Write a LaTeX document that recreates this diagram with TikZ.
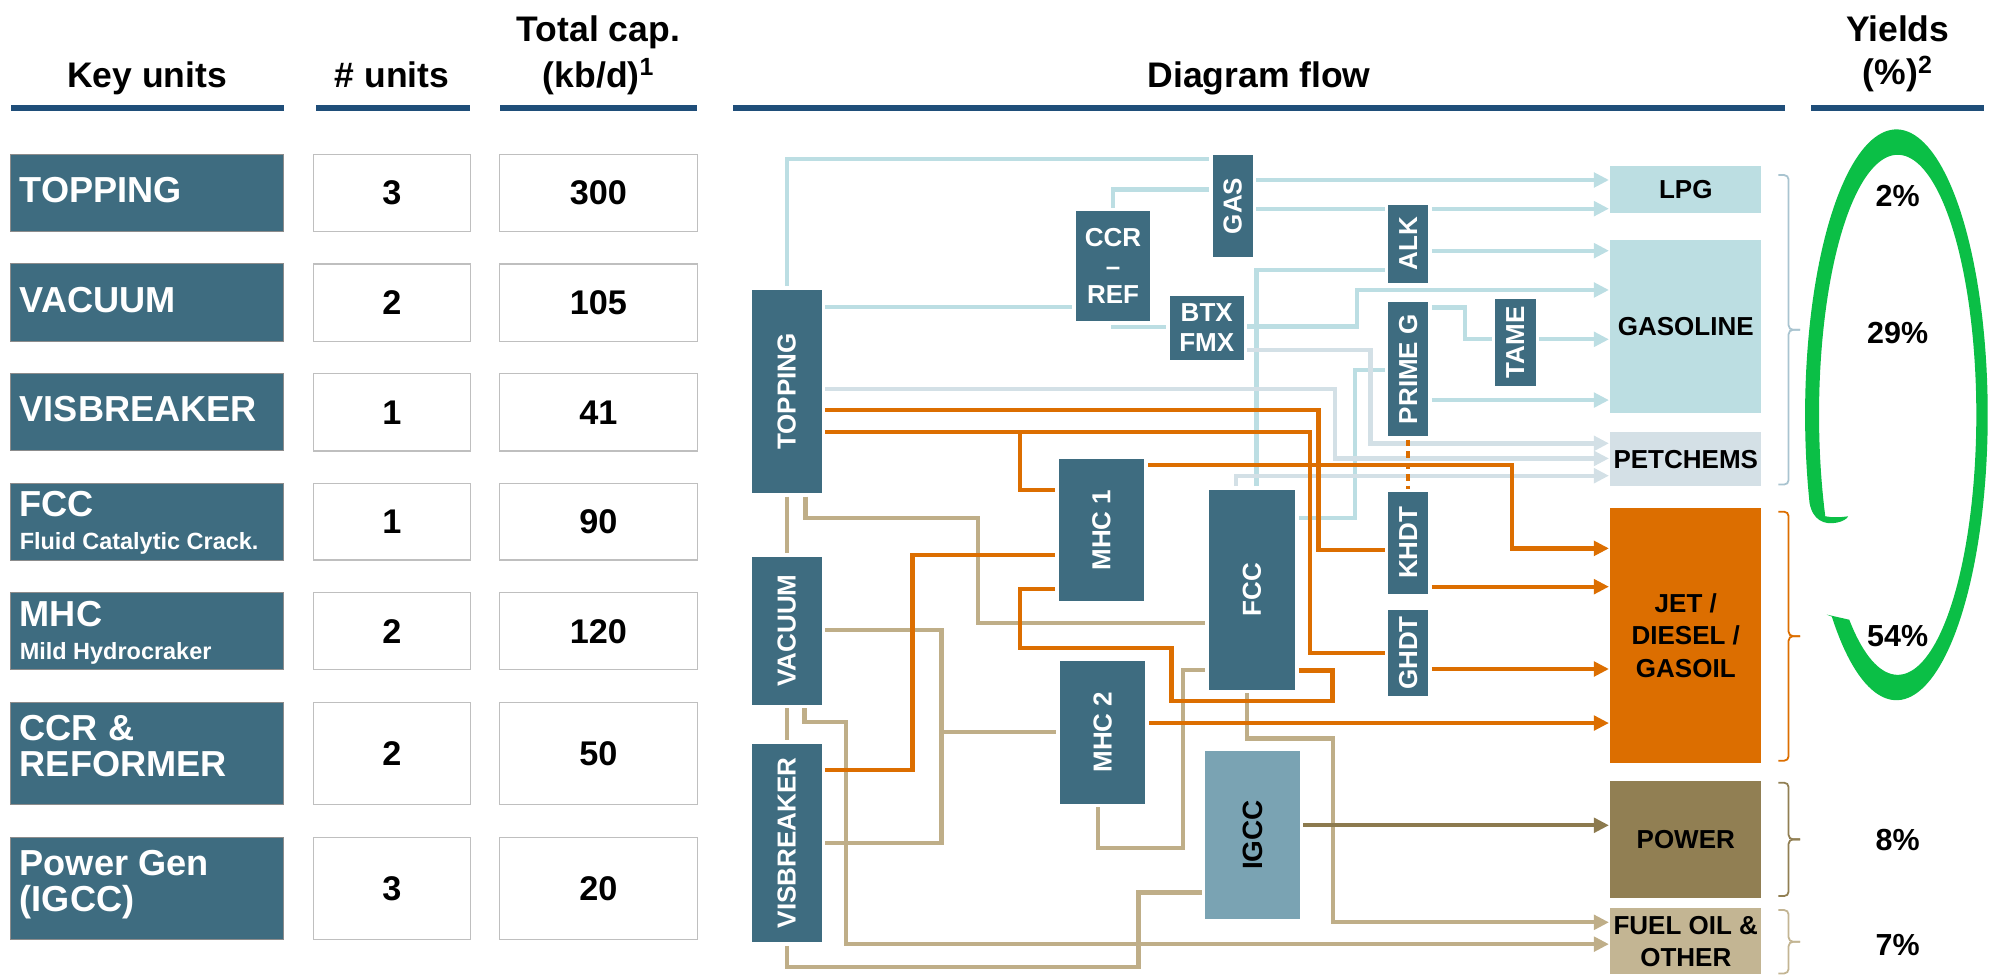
\documentclass[tikz,border=0pt]{standalone}
\usepackage{fontspec}
\setmainfont{Liberation Sans}
\usepackage{graphicx}
\usetikzlibrary{arrows.meta,calc}
\pgfdeclarelayer{lines}
\pgfsetlayers{lines,main}
\definecolor{blkc}{HTML}{3E6C80}
\definecolor{igcc}{HTML}{7AA3B3}
\definecolor{lbc}{HTML}{BCDEE3}
\definecolor{pcc}{HTML}{D3E0E6}
\definecolor{ogc}{HTML}{DC6E00}
\definecolor{tnc}{HTML}{BFAE88}
\definecolor{bwc}{HTML}{8C7A4E}
\definecolor{lpgc}{HTML}{BCDEE2}
\definecolor{petc}{HTML}{D4E0E6}
\definecolor{powc}{HTML}{917F53}
\definecolor{fuelc}{HTML}{C3B593}
\definecolor{ulc}{HTML}{1F4E79}
\definecolor{grn}{HTML}{0BBF46}
\definecolor{brcb}{HTML}{A9C4D0}
\definecolor{keybd}{HTML}{8C8C8C}
\definecolor{numbd}{HTML}{BFBFBF}
\newcommand{\mkbox}[7]{%
  \pgfmathsetmacro{\mkcx}{(#3+#5)/2}%
  \pgfmathsetmacro{\mkcy}{(#4+#6)/2}%
  \pgfmathsetmacro{\mkw}{#5-#3}%
  \pgfmathsetmacro{\mkh}{#6-#4}%
  \node[#2, minimum width=\mkw pt, minimum height=\mkh pt] (#1) at (\mkcx,\mkcy) {#7};}
% brace: colour, top, tip, bottom
\newcommand{\mkbrace}[4]{%
  \draw[brc, draw=#1] (1402,#2) -| (1410,#3) -- (1419,#3);
  \draw[brc, draw=#1] (1419,#3) -- (1410,#3) |- (1402,#4);}
\begin{document}
\begin{tikzpicture}[x=1pt,y=-1pt,
  blk/.style={fill=blkc, draw=white, line width=0.6pt, inner sep=0pt, outer sep=0pt, text=white, font=\fontsize{20.5}{22.5}\selectfont\bfseries, align=center},
  outb/.style={inner sep=0pt, outer sep=0pt, font=\fontsize{20.5}{25.5}\selectfont\bfseries, align=center, text=black},
  keyb/.style={fill=blkc, draw=keybd, line width=0.8pt, inner sep=0pt, outer sep=0pt},
  numb/.style={fill=white, draw=numbd, line width=0.9pt, inner sep=0pt, outer sep=0pt, font=\fontsize{27}{29}\selectfont\bfseries},
  keyt/.style={anchor=base west, inner sep=0pt, text=white, font=\fontsize{28.5}{30}\selectfont\bfseries},
  keys/.style={anchor=base west, inner sep=0pt, text=white, font=\fontsize{18.5}{20}\selectfont\bfseries},
  hdr/.style={anchor=base, inner sep=0pt, font=\fontsize{28}{30}\selectfont\bfseries},
  pct/.style={anchor=base, inner sep=0pt, font=\fontsize{24}{26}\selectfont\bfseries},
  ln/.style={line width=3.4pt},
  lb/.style={ln, draw=lbc},
  pc/.style={ln, draw=pcc},
  og/.style={ln, draw=ogc},
  tn/.style={ln, draw=tnc},
  bw/.style={ln, draw=bwc},
  arr/.style={-{Triangle[length=12pt,width=11.5pt]}, shorten >=1pt},
  gs/.style={shorten <=2.5pt},
  ge/.style={shorten >=2.5pt},
  gap/.style={shorten <=2.5pt, shorten >=2.5pt},
  brc/.style={line width=1.4pt, rounded corners=3.5pt}
]
\useasboundingbox (0,0) rectangle (1568,768);

% ---------- headers ----------
\node[hdr] (h1) at (116,68.8) {Key units};
\node[hdr] (h2) at (309,68.8) {\# units};
\node[hdr] (h3a) at (471.8,32.8) {Total cap.};
\node[hdr] (h3b) at (471.8,68.8) {(kb/d)\textsuperscript{1}};
\node[hdr] (h4) at (992.5,68.8) {Diagram flow};
\node[hdr] (h5a) at (1496,32.8) {Yields};
\node[hdr] (h5b) at (1496,67) {(\%)\textsuperscript{2}};
\fill[ulc] (8.5,83) rectangle (223.5,87.2);
\fill[ulc] (249,83) rectangle (370.5,87.2);
\fill[ulc] (393.8,83) rectangle (549.8,87.2);
\fill[ulc] (578,83) rectangle (1407,87.2);
\fill[ulc] (1428,83) rectangle (1564,87.2);

% ---------- left table ----------
\mkbox{kb1}{keyb}{8.5}{121.7}{223.5}{182.7}{}
\mkbox{kb2}{keyb}{8.5}{208.1}{223.5}{269.1}{}
\mkbox{kb3}{keyb}{8.5}{294.5}{223.5}{355.5}{}
\mkbox{kb4}{keyb}{8.5}{380.9}{223.5}{441.5}{}
\mkbox{kb5}{keyb}{8.5}{467.3}{223.5}{527.9}{}
\mkbox{kb6}{keyb}{8.5}{553.7}{223.5}{634}{}
\mkbox{kb7}{keyb}{8.5}{660}{223.5}{740.5}{}
\node[keyt] (kt1) at (15.4,159.8) {TOPPING};
\node[keyt] (kt2) at (15.4,246.2) {VACUUM};
\node[keyt] (kt3) at (15.4,332.6) {VISBREAKER};
\node[keyt] (kt4) at (15.4,407.1) {FCC};
\node[keys] (ks4) at (15.4,433.2) {Fluid Catalytic Crack.};
\node[keyt] (kt5) at (15.4,493.5) {MHC};
\node[keys] (ks5) at (15.4,519.8) {Mild Hydrocraker};
\node[keyt] (kt6) at (15.4,583.4) {CCR \&};
\node[keyt] (kt6b) at (15.4,612.3) {REFORMER};
\node[keyt] (kt7) at (15.4,689.8) {Power Gen};
\node[keyt] (kt7b) at (15.4,718.7) {(IGCC)};

\mkbox{nb1}{numb}{247}{121.7}{371}{182.7}{3}
\mkbox{nb2}{numb}{247}{208.1}{371}{269.1}{2}
\mkbox{nb3}{numb}{247}{294.5}{371}{355.5}{1}
\mkbox{nb4}{numb}{247}{380.9}{371}{441.5}{1}
\mkbox{nb5}{numb}{247}{467.3}{371}{527.9}{2}
\mkbox{nb6}{numb}{247}{553.7}{371}{634}{2}
\mkbox{nb7}{numb}{247}{660}{371}{740.5}{3}
\mkbox{cb1}{numb}{393.8}{121.7}{549.8}{182.7}{300}
\mkbox{cb2}{numb}{393.8}{208.1}{549.8}{269.1}{105}
\mkbox{cb3}{numb}{393.8}{294.5}{549.8}{355.5}{41}
\mkbox{cb4}{numb}{393.8}{380.9}{549.8}{441.5}{90}
\mkbox{cb5}{numb}{393.8}{467.3}{549.8}{527.9}{120}
\mkbox{cb6}{numb}{393.8}{553.7}{549.8}{634}{50}
\mkbox{cb7}{numb}{393.8}{660}{549.8}{740.5}{20}

% ---------- process blocks ----------
\mkbox{TOP}{blk}{592.5}{228.1}{648}{389}{\rotatebox{90}{TOPPING}}
\mkbox{VAC}{blk}{592.5}{438.3}{648}{555.8}{\rotatebox{90}{VACUUM}}
\mkbox{VIS}{blk}{592.5}{586}{648}{743.2}{\rotatebox{90}{VISBREAKER}}
\mkbox{CCR}{blk, font=\fontsize{20.5}{22.3}\selectfont\bfseries}{847.7}{166.1}{907.2}{253.6}{CCR\\--\\REF}
\mkbox{GAS}{blk}{955.6}{121.7}{987.9}{202.9}{\rotatebox{90}{GAS}}
\mkbox{BTX}{blk, font=\fontsize{20.5}{23}\selectfont\bfseries}{921.9}{232.6}{980.7}{283.8}{BTX\\FMX}
\mkbox{ALK}{blk}{1094}{160.8}{1126.3}{223.4}{\rotatebox{90}{ALK}}
\mkbox{PRG}{blk}{1094}{237.8}{1126.3}{344.3}{\rotatebox{90}{PRIME G}}
\mkbox{TAME}{blk}{1178.3}{235.2}{1210.8}{304.3}{\rotatebox{90}{TAME}}
\mkbox{MHC1}{blk}{834}{361.4}{902.5}{474.3}{\rotatebox{90}{MHC 1}}
\mkbox{MHC2}{blk}{835.2}{520.5}{903.3}{633.9}{\rotatebox{90}{MHC 2}}
\mkbox{FCC}{blk}{952.6}{385.8}{1021.4}{544}{\rotatebox{90}{FCC}}
\mkbox{IGCC}{blk, fill=igcc, text=black, font=\fontsize{22}{24}\selectfont\bfseries}{949.7}{591.8}{1024.9}{724.8}{\rotatebox{90}{IGCC}}
\mkbox{KHDT}{blk}{1094}{387.6}{1126.3}{468.3}{\rotatebox{90}{KHDT}}
\mkbox{GHDT}{blk}{1094}{480.4}{1126.3}{549.2}{\rotatebox{90}{GHDT}}
\mkbox{LPG}{outb, fill=lpgc}{1269.4}{130.9}{1388.5}{167.7}{LPG}
\mkbox{GASO}{outb, fill=lpgc}{1269.4}{189.2}{1388.5}{325.4}{GASOLINE}
\mkbox{PET}{outb, fill=petc}{1269.4}{340.9}{1388.5}{382.9}{PETCHEMS}
\mkbox{JET}{outb, fill=ogc}{1269.4}{400.2}{1388.5}{601.8}{JET /\\DIESEL /\\GASOIL}
\mkbox{POW}{outb, fill=powc}{1269.4}{615.4}{1388.5}{708.2}{POWER}
\mkbox{FUEL}{outb, fill=fuelc}{1269.4}{716.1}{1388.5}{768}{FUEL OIL \&\\OTHER}

% ---------- connectors, beneath the blocks ----------
\begin{pgfonlayer}{lines}
% tan
\draw[tn,gap] (TOP.south) -- (VAC.north);
\draw[tn,gap] (VAC.south) -- (VIS.north);
\draw[tn,gap] (TOP.south -| 635,0) |- (770.9,408.6) |- (FCC.west |- 0,490.9);
\draw[tn,gap] (VAC.east |- 0,496.7) -| (742.2,664.3) -- (VIS.east |- 0,664.3);
\draw[tn,ge] (742.2,577.3) -- (MHC2.west |- 0,577.3);
\draw[tn,gs,arr] (VAC.south -| 634.3,0) |- (667,569) |- (FUEL.west |- 0,744.3);
\draw[tn,gap] (MHC2.south -| 865.7,0) |- (932.7,668.3) |- (FCC.west |- 0,528.2);
\draw[tn,gs,arr] (FCC.south -| 983.3,0) |- (1051,582.1) |- (FUEL.west |- 0,727.1);
\draw[tn,gap] (VIS.south) |- (897.4,762.1) |- (IGCC.west |- 0,703.7);
% light blue
\draw[lb,gap] (TOP.north) |- (GAS.west |- 0,125.6);
\draw[lb,gap] (CCR.north) |- (GAS.west |- 0,149.3);
\draw[lb,gs,arr] (GAS.east |- 0,141.9) -- (LPG.west |- 0,141.9);
\draw[lb,gap] (GAS.east |- 0,164.5) -- (ALK.west |- 0,164.5);
\draw[lb,gs,arr] (ALK.east |- 0,164.5) -- (LPG.west |- 0,164.5);
\draw[lb,gs,arr] (ALK.east |- 0,197.6) -- (GASO.west |- 0,197.6);
\draw[lb,gap] (FCC.north -| 990.5,0) |- (ALK.west |- 0,212.8);
\draw[lb,gap] (TOP.east |- 0,241.8) -- (CCR.west |- 0,241.8);
\draw[lb,gap] (CCR.south) |- (BTX.west |- 0,257.6);
\draw[lb,gs,arr] (BTX.east |- 0,257.5) -| (1069.5,228.6) -- (GASO.west |- 0,228.6);
\draw[lb,gap] (FCC.east |- 0,408.6) -| (1068.2,291.7) -- (PRG.west |- 0,291.7);
\draw[lb,gap] (PRG.east |- 0,242.3) -| (1155,267.5) -- (TAME.west |- 0,267.5);
\draw[lb,gs,arr] (TAME.east |- 0,267.5) -- (GASO.west |- 0,267.5);
\draw[lb,gs,arr] (PRG.east |- 0,315.4) -- (GASO.west |- 0,315.4);
% petchems
\draw[pc,gs,arr] (BTX.east |- 0,275.9) -| (1080.4,349.5) -- (PET.west |- 0,349.5);
\draw[pc,gs,arr] (TOP.east |- 0,306.5) -| (1052.5,361.4) -- (PET.west |- 0,361.4);
\draw[pc,gs,arr] (FCC.north -| 974.3,0) |- (PET.west |- 0,375);
% orange
\draw[og,gap] (TOP.east |- 0,323.3) -| (1039.5,433.6) -- (KHDT.west |- 0,433.6);
\draw[og,gap] (TOP.east |- 0,340.3) -| (1032.5,515) -- (GHDT.west |- 0,515);
\draw[og,ge] (804.3,340.3) |- (MHC1.west |- 0,386.3);
\draw[og,gs,arr] (MHC1.east |- 0,366.6) -| (1192,432.3) -- (JET.west |- 0,432.3);
\draw[og,gs,arr] (KHDT.east |- 0,462.5) -- (JET.west |- 0,462.5);
\draw[og,gs,arr] (GHDT.east |- 0,527.4) -- (JET.west |- 0,527.4);
\draw[og,gs,arr] (MHC2.east |- 0,570) -- (JET.west |- 0,570);
\draw[og,gap] (VIS.east |- 0,607) -| (719.3,437.5) -- (MHC1.west |- 0,437.5);
\draw[og,gap] (FCC.east |- 0,528.5) -| (1050.5,552.5) -| (923.5,511.1) -| (804.2,464.2) -- (MHC1.west |- 0,464.2);
\draw[og,gap,dash pattern=on 5pt off 4pt] (PRG.south) -- (KHDT.north);
% power
\draw[bw,gs,arr] (IGCC.east |- 0,650.6) -- (POW.west |- 0,650.6);
\end{pgfonlayer}

% ---------- braces ----------
\mkbrace{brcb}{138}{260}{382}
\mkbrace{ogc}{403.4}{501.5}{599.7}
\mkbrace{powc}{617}{661.7}{706.4}
\mkbrace{fuelc}{717.4}{742.4}{767.4}

% ---------- green cycle ----------
\fill[grn] (1440,484.5)
  -- plot[domain=0:333, samples=160] ({1495+72*cos(135-\x)},{327+225*sin(135-\x)})
  .. controls (1429,410) and (1438,414) .. (1448,412)
  .. controls (1453,411) and (1456,409) .. (1457,407)
  .. controls (1450,408) and (1444,408) .. (1439,407)
  -- plot[domain=0:331, samples=160] ({1496+62*cos(-203+\x)},{327+205*sin(-203+\x)})
  -- cycle;

% ---------- yields ----------
\node[pct] (p1) at (1496,162.9) {2\%};
\node[pct] (p2) at (1496,270.7) {29\%};
\node[pct] (p3) at (1496,509.8) {54\%};
\node[pct] (p4) at (1496,670.6) {8\%};
\node[pct] (p5) at (1496,752.9) {7\%};
\end{tikzpicture}
\end{document}
